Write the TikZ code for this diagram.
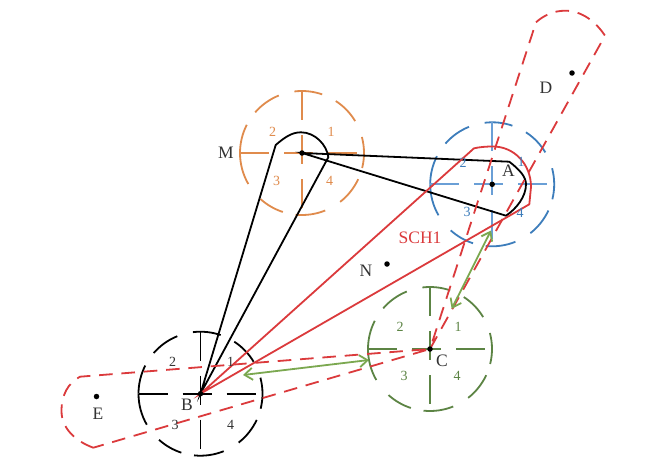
\documentclass[tikz,border=0pt]{standalone}
\usepackage{fontspec}
\setmainfont{Liberation Serif}
\usetikzlibrary{arrows.meta}
\definecolor{cM}{HTML}{E08B4C}
\definecolor{cA}{HTML}{3D7DBB}
\definecolor{cAx}{HTML}{6A9FD6}
\definecolor{cC}{HTML}{5C8444}
\definecolor{cR}{HTML}{DB3A3C}
\definecolor{cG}{HTML}{7BA850}
\definecolor{cT}{HTML}{333333}
\newcommand{\targetmark}[3]{%
  \foreach \a/\b in {97/71,57/31,15/-14,-25/-52,-68/-96,-108/-132,-150/-180,180/153,139/112}{
    \draw[#2,line width=1.8pt] (#1)+({-\a}:62) arc[start angle={-\a},end angle={-\b},radius=62];
  }
  \draw[#3,line width=1.8pt,dash pattern=on 29pt off 15pt] (#1)+(-62,0) -- +(62,0);
  \draw[#3,line width=1.8pt,dash pattern=on 29pt off 15pt] (#1)+(0,-62) -- +(0,62);
}
\tikzset{
  lab/.style={font=\fontsize{17.5pt}{20pt}\selectfont,text=cT,inner sep=0pt},
  num/.style={font=\fontsize{14pt}{16pt}\selectfont,inner sep=0pt},
  hull/.style={line width=1.8pt,line join=miter},
  redhull/.style={hull,cR},
  reddash/.style={redhull,dash pattern=on 13.6pt off 8.8pt},
  greenarrow/.style={cG,line width=1.8pt,{Straight Barb[length=8pt,width=12pt]}-{Straight Barb[length=8pt,width=12pt]}},
  dotmark/.style={fill=black,circle,inner sep=0pt,minimum size=5.5pt},
}
\begin{document}
\begin{tikzpicture}[x=1pt,y=-1pt]
\useasboundingbox (0,0) rectangle (664,474);
\fill[white] (0,0) rectangle (664,474);
\coordinate (M) at (302,153);
\coordinate (A) at (492.2,184.3);
\coordinate (B) at (200.5,393.7);
\coordinate (C) at (430,349);
\coordinate (D) at (572,73);
\coordinate (E) at (96.5,396.5);
\coordinate (N) at (387,264);
% target marks
\targetmark{M}{cM}{cM}
\targetmark{A}{cA}{cAx}
\targetmark{B}{black}{black}
\targetmark{C}{cC}{cC}
% hull corners
\coordinate (ml) at (275.7,145);
\coordinate (mt) at (301,132.3);
\coordinate (mr) at (328.3,157.3);
\coordinate (at) at (509.3,161.7);
\coordinate (ar) at (526,184.3);
\coordinate (ab) at (506,215.7);
\coordinate (rs) at (474,148.3);
\coordinate (rt) at (493,146.5);
\coordinate (rr) at (531,187);
\coordinate (re) at (529.3,204.3);
\coordinate (dl) at (536,22.3);
\coordinate (dt) at (565,10.7);
\coordinate (dr) at (605,35.7);
\coordinate (et) at (80,376.7);
\coordinate (el) at (61.5,411);
\coordinate (eb) at (93.3,447.7);
% black hulls
\draw[hull,black] (B) -- (ml) .. controls (285,137) and (292,132.3) .. (mt) .. controls (315,132.3) and (327,145) .. (mr) -- cycle;
\draw[hull,black] (M) -- (at) .. controls (520,170) and (526,177) .. (ar) .. controls (526,197) and (516,209) .. (ab) -- cycle;
% red hulls
\draw[redhull] (B) -- (rs) .. controls (480,147) and (486,146.5) .. (rt) .. controls (514,146.5) and (531,164) .. (rr) -- (re) -- cycle;
\draw[reddash] (dl) .. controls (543,16) and (553,10.7) .. (dt) .. controls (582,10.7) and (596,22) .. (dr) -- (C) -- cycle;
\draw[reddash] (eb) .. controls (75,441) and (61.5,428) .. (el) .. controls (61.5,395) and (68,383) .. (et) -- (C) -- cycle;
% green double arrows
\coordinate (g1a) at (491,230.5);
\coordinate (g1b) at (451.7,308.8);
\coordinate (g2a) at (243,375);
\coordinate (g2b) at (369,360);
\draw[greenarrow] (g1a) -- (g1b);
\draw[greenarrow] (g2a) -- (g2b);
% dots
\node[dotmark] (dM) at (M) {};
\node[dotmark] (dA) at (A) {};
\node[dotmark] (dB) at (B) {};
\node[dotmark] (dC) at (C) {};
\node[dotmark] (dD) at (D) {};
\node[dotmark] (dE) at (E) {};
\node[dotmark] (dN) at (N) {};
% labels
\node[lab] (lM) at (226,153) {M};
\node[lab] (lA) at (508.5,171) {A};
\node[lab] (lB) at (187,405) {B};
\node[lab] (lC) at (442,361) {C};
\node[lab] (lD) at (546,88) {D};
\node[lab] (lE) at (98,414) {E};
\node[lab] (lN) at (366,271) {N};
\node[lab,text=cR] (lS) at (420,238) {SCH1};
% quadrant numbers
\node[num,text=cM] (m1) at (331,132) {1};
\node[num,text=cM] (m2) at (272.5,132) {2};
\node[num,text=cM] (m3) at (276.5,181) {3};
\node[num,text=cM] (m4) at (329.5,181) {4};
\node[num,text=cA] (a1) at (521,162) {1};
\node[num,text=cA] (a2) at (463,163) {2};
\node[num,text=cA] (a3) at (467,212) {3};
\node[num,text=cA] (a4) at (520,213) {4};
\node[num,text=cT] (b1) at (230.7,361.7) {1};
\node[num,text=cT] (b2) at (172.7,361.7) {2};
\node[num,text=cT] (b3) at (175,425) {3};
\node[num,text=cT] (b4) at (230.7,425) {4};
\node[num,text=cC] (c1) at (458,327) {1};
\node[num,text=cC] (c2) at (400,327) {2};
\node[num,text=cC] (c3) at (404,376) {3};
\node[num,text=cC] (c4) at (457,376) {4};
\end{tikzpicture}
\end{document}
